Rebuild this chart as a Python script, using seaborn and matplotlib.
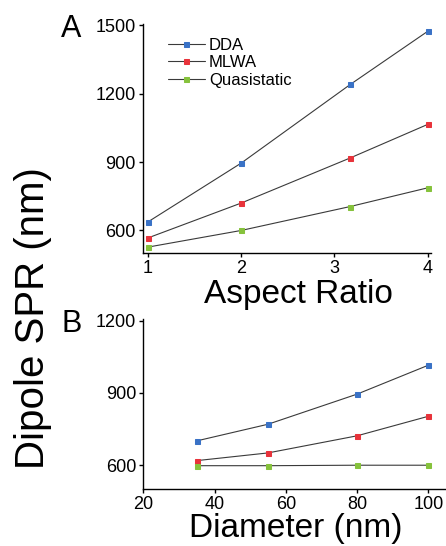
import numpy as np
import pandas as pd
import matplotlib
matplotlib.use("Agg")
import matplotlib.pyplot as plt
import seaborn as sns

# data
aspect_ratio = [1, 2, 3.17, 4]
dda_a = [637, 895, 1240, 1473]
mlwa_a = [567, 720, 918, 1065]
quasi_a = [527, 600, 705, 787]

diameter = [35, 55, 80, 100]
dda_b = [701, 770, 895, 1015]
mlwa_b = [619, 651, 722, 803]
quasi_b = [598, 598, 600, 600]

names = ["DDA", "MLWA", "Quasistatic"]
colors = ["#3a72c6", "#e8333b", "#86c23c"]

sns.set_style("ticks")
plt.rcParams["font.family"] = ["Liberation Sans", "DejaVu Sans"]
plt.rcParams["axes.linewidth"] = 1.0
plt.rcParams["xtick.major.width"] = 1.0
plt.rcParams["ytick.major.width"] = 1.0
plt.rcParams["xtick.major.size"] = 3
plt.rcParams["ytick.major.size"] = 3
plt.rcParams["axes.edgecolor"] = "black"
plt.rcParams["text.color"] = "black"
plt.rcParams["xtick.color"] = "black"
plt.rcParams["ytick.color"] = "black"

W, H = 446, 546
fig = plt.figure(figsize=(W / 100, H / 100), dpi=100)

def box(l, t, r, b):
    return [l / W, 1 - b / H, (r - l) / W, (b - t) / H]

ax1 = fig.add_axes(box(142.7, 24, 431, 253.3))
ax2 = fig.add_axes(box(143.3, 319, 445, 489.3))

def draw(ax, x, series, legend):
    for name, vals, c in zip(names, series, colors):
        df = pd.DataFrame({"x": x, "y": vals})
        sns.lineplot(data=df, x="x", y="y", ax=ax, color="#3a3a3a", lw=0.8,
                     marker="s", markersize=3.6, markerfacecolor=c,
                     markeredgecolor=c, label=name if legend else None,
                     legend=False)
    ax.set_xlabel("")
    ax.set_ylabel("")
    ax.tick_params(labelsize=13, pad=2)
    sns.despine(ax=ax)

draw(ax1, aspect_ratio, [dda_a, mlwa_a, quasi_a], True)
ax1.set_xlim(0.946, 4.035)
ax1.set_ylim(500, 1505)
ax1.set_xticks([1, 2, 3, 4])
ax1.set_yticks([600, 900, 1200, 1500])
ax1.legend(loc="upper left", bbox_to_anchor=(0.065, 0.97), frameon=False,
           fontsize=12, handlelength=2.2, handletextpad=0.25,
           labelspacing=0.15, borderaxespad=0)

draw(ax2, diameter, [dda_b, mlwa_b, quasi_b], False)
ax2.set_xlim(20, 104.7)
ax2.set_ylim(500, 1207)
ax2.set_xticks([20, 40, 60, 80, 100])
ax2.set_yticks([600, 900, 1200])

fig.text(298 / W, 1 - 303 / H, "Aspect Ratio", fontsize=24, ha="center", va="baseline")
fig.text(296 / W, 1 - 537 / H, "Diameter (nm)", fontsize=24, ha="center", va="baseline")
fig.text(33 / W, 1 - 318 / H, "Dipole SPR (nm)", fontsize=29, rotation=90,
         ha="center", va="center")
fig.text(61 / W, 1 - 37 / H, "A", fontsize=22, va="baseline")
fig.text(62 / W, 1 - 332 / H, "B", fontsize=22, va="baseline")

fig.savefig("out.png", dpi=100)
